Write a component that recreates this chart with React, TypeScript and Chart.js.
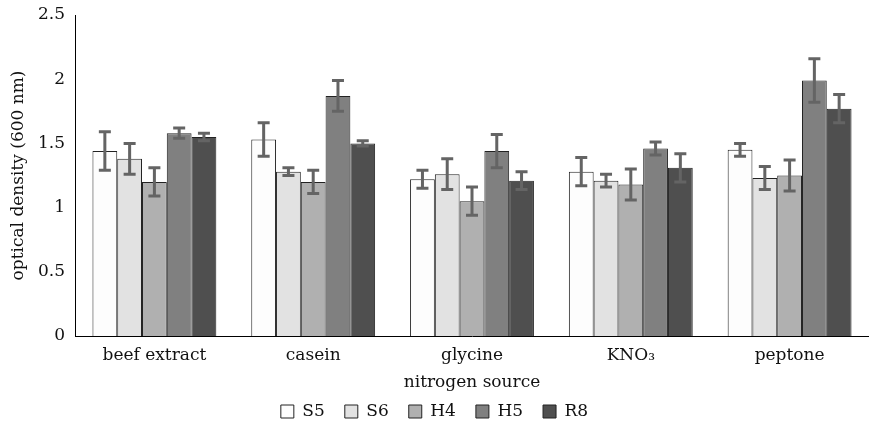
import React, { useEffect, useRef } from 'react';
import { Chart, registerables } from 'chart.js';

Chart.register(...registerables);

const categories = ['beef extract', 'casein', 'glycine', 'KNO₃', 'peptone'];
const seriesNames = ['S5', 'S6', 'H4', 'H5', 'R8'];
const seriesColors = ['#fdfdfd', '#e2e2e2', '#b0b0b0', '#808080', '#4f4f4f'];

const s5 = [1.44, 1.53, 1.22, 1.28, 1.45];
const s6 = [1.38, 1.28, 1.26, 1.21, 1.23];
const h4 = [1.20, 1.20, 1.05, 1.18, 1.25];
const h5 = [1.58, 1.87, 1.44, 1.46, 1.99];
const r8 = [1.55, 1.50, 1.21, 1.31, 1.77];

const s5Err = [0.15, 0.13, 0.07, 0.11, 0.05];
const s6Err = [0.12, 0.03, 0.12, 0.05, 0.09];
const h4Err = [0.11, 0.09, 0.11, 0.12, 0.12];
const h5Err = [0.04, 0.12, 0.13, 0.05, 0.17];
const r8Err = [0.03, 0.02, 0.07, 0.11, 0.11];

const yTicks = [0, 0.5, 1, 1.5, 2, 2.5];

const seriesValues = [s5, s6, h4, h5, r8];
const seriesErrors = [s5Err, s6Err, h4Err, h5Err, r8Err];

const FONT = "'DejaVu Serif', serif";
const FS = 17;

const errorBarPlugin = {
  id: 'errorBars',
  afterDatasetsDraw(chart: any) {
    const ctx = chart.ctx;
    const y = chart.scales.y;
    chart.data.datasets.forEach((ds: any, i: number) => {
      const meta = chart.getDatasetMeta(i);
      meta.data.forEach((bar: any, j: number) => {
        const v = ds.data[j];
        const e = ds.errors[j];
        const top = y.getPixelForValue(v + e);
        const bot = y.getPixelForValue(v - e);
        ctx.save();
        ctx.strokeStyle = '#646464';
        ctx.lineWidth = 3;
        ctx.beginPath();
        ctx.moveTo(bar.x, top);
        ctx.lineTo(bar.x, bot);
        ctx.moveTo(bar.x - 6, top);
        ctx.lineTo(bar.x + 6, top);
        ctx.moveTo(bar.x - 6, bot);
        ctx.lineTo(bar.x + 6, bot);
        ctx.stroke();
        ctx.restore();
      });
    });
  },
};

export default function App() {
  const ref = useRef<HTMLCanvasElement | null>(null);
  useEffect(() => {
    document.body.style.margin = '0';
    const chart = new Chart(ref.current as HTMLCanvasElement, {
      type: 'bar',
      data: {
        labels: categories,
        datasets: seriesNames.map((name, i) => ({
          label: name,
          data: seriesValues[i],
          errors: seriesErrors[i],
          backgroundColor: seriesColors[i],
          borderColor: '#222222',
          borderWidth: 1,
          categoryPercentage: 0.78,
          barPercentage: 1,
        })) as any,
      },
      options: {
        animation: false,
        responsive: false,
        maintainAspectRatio: false,
        layout: { padding: { top: 15, right: 0, left: 0, bottom: -6 } },
        plugins: {
          tooltip: { enabled: false },
          legend: {
            position: 'bottom',
            labels: {
              boxWidth: 13,
              boxHeight: 13,
              padding: 20,
              color: '#111',
              font: { family: FONT, size: FS },
            },
          },
        },
        scales: {
          x: {
            grid: { display: false, drawTicks: false },
            border: { display: true, color: '#000', width: 1 },
            afterFit: (scale: any) => {
              scale.height = 47;
            },
            ticks: { color: '#111', font: { family: FONT, size: FS }, padding: 9 },
            title: {
              display: true,
              text: 'nitrogen source',
              color: '#111',
              font: { family: FONT, size: FS },
              padding: { top: 0, bottom: -10 },
            },
          },
          y: {
            min: 0,
            max: 2.5,
            grid: { display: false, drawTicks: false },
            border: { display: true, color: '#000', width: 1 },
            afterBuildTicks: (scale: any) => {
              scale.ticks = yTicks.map((v) => ({ value: v }));
            },
            afterFit: (scale: any) => {
              scale.width = 75;
              scale.paddingTop = 0;
              scale.paddingBottom = 0;
            },
            ticks: {
              color: '#111',
              font: { family: FONT, size: FS },
              padding: 10,
              callback: (v: any) => String(v),
            },
            title: {
              display: true,
              text: 'optical density (600 nm)',
              color: '#111',
              font: { family: FONT, size: FS },
              padding: { top: 8, bottom: 0 },
            },
          },
        },
      } as any,
      plugins: [errorBarPlugin],
    });
    return () => chart.destroy();
  }, []);
  return (
    <div style={{ width: 869, height: 424 }}>
      <canvas ref={ref} width={869} height={424} />
    </div>
  );
}
